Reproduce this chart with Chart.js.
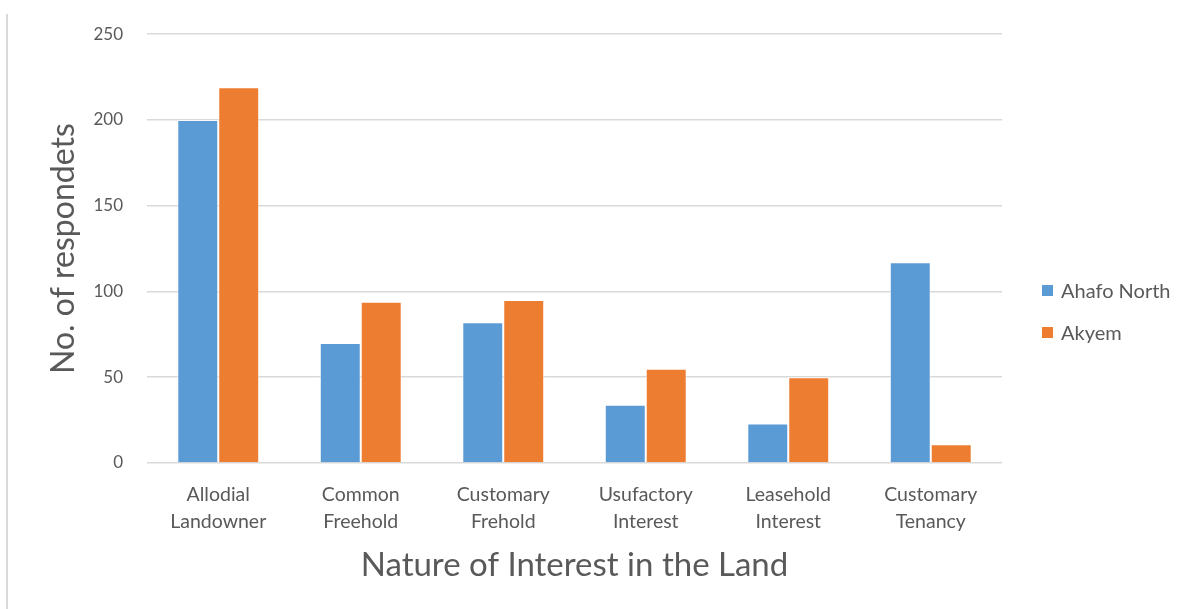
<!DOCTYPE html>
<html>
<head>
<meta charset="utf-8">
<script src="https://cdn.jsdelivr.net/npm/chart.js@4/dist/chart.umd.min.js"></script>
<style>
    html, body { margin: 0; padding: 0; background: #fff; }
    #wrap { position: relative; width: 1190px; height: 609px; }
    #edge { position: absolute; left: 6px; top: 14px; bottom: 0; width: 2px; background: #d9d9d9; }
    #legend { position: absolute; left: 1042px; top: 276px; font-family: Lato, sans-serif; font-size: 20px; color: #595959; }
    #legend .item { display: flex; align-items: center; height: 28px; margin-bottom: 14px; }
    #legend .box { width: 11px; height: 11px; margin-right: 8px; }
</style>
</head>
<body>
<div id="wrap">
    <canvas id="landChart" width="1190" height="609"></canvas>
    <div id="edge"></div>
    <div id="legend"></div>
</div>
<script>
const categories = [
    ['Allodial', 'Landowner'],
    ['Common', 'Freehold'],
    ['Customary', 'Frehold'],
    ['Usufactory', 'Interest'],
    ['Leasehold', 'Interest'],
    ['Customary', 'Tenancy']
];
const seriesNames = ['Ahafo North', 'Akyem'];
const ahafoNorth = [200, 70, 82, 34, 23, 117];
const akyem = [219, 94, 95, 55, 50, 11];
const yTicks = [0, 50, 100, 150, 200, 250];
const colors = ['#5b9bd5', '#ed7d31'];

const textGray = '#595959';
const font = 'Lato, sans-serif';

const datasets = [ahafoNorth, akyem].map((values, i) => ({
    label: seriesNames[i],
    data: values,
    backgroundColor: colors[i],
    borderColor: 'rgba(255,255,255,0.6)',
    borderWidth: 1,
    barPercentage: 1.0,
    categoryPercentage: 0.575
}));

new Chart(document.getElementById('landChart').getContext('2d'), {
    type: 'bar',
    data: { labels: categories, datasets },
    options: {
        responsive: false,
        animation: false,
        layout: { padding: { top: 26, right: 188, bottom: 0, left: 0 } },
        plugins: {
            legend: { display: false },
            tooltip: { enabled: false }
        },
        scales: {
            x: {
                grid: { display: false },
                border: { display: false },
                ticks: {
                    color: textGray,
                    font: { family: font, size: 19.5, lineHeight: 1.4 },
                    padding: 10,
                    maxRotation: 0
                },
                title: {
                    display: true,
                    text: 'Nature of Interest in the Land',
                    color: textGray,
                    font: { family: font, size: 33 },
                    padding: { top: 0, bottom: 24 }
                },
                afterFit(scale) { scale.height = 146; }
            },
            y: {
                min: 0,
                max: 250,
                afterBuildTicks(scale) { scale.ticks = yTicks.map(v => ({ value: v })); },
                grid: { color: '#d9d9d9', lineWidth: 1.5, drawTicks: false },
                border: { display: false },
                ticks: {
                    color: textGray,
                    font: { family: font, size: 17 },
                    padding: 24
                },
                title: {
                    display: true,
                    text: 'No. of respondets',
                    color: textGray,
                    font: { family: font, size: 32 },
                    padding: { top: 44, bottom: 0 }
                },
                afterFit(scale) { scale.width = 147; }
            }
        }
    }
});

// legend to the right of the plot
const legend = document.getElementById('legend');
seriesNames.forEach((name, i) => {
    const item = document.createElement('div');
    item.className = 'item';
    item.innerHTML = `<span class="box" style="background:${colors[i]}"></span><span>${name}</span>`;
    legend.appendChild(item);
});
</script>
</body>
</html>
